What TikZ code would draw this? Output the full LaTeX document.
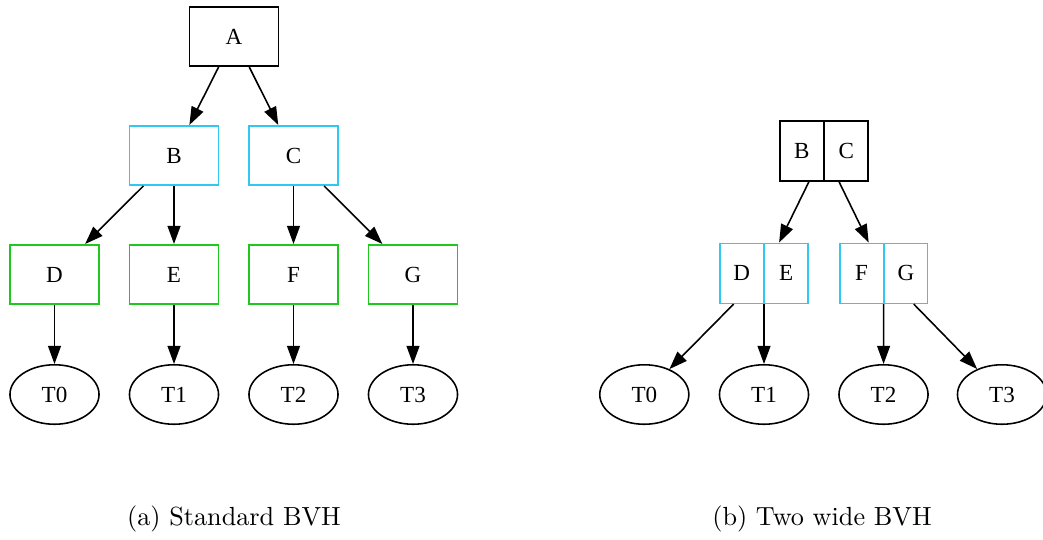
\documentclass[tikz,border=0pt]{standalone}
\usepackage{fontspec}
\newfontfamily\labelfont{Liberation Serif}
\usetikzlibrary{arrows.meta,shapes.geometric,shapes.multipart}
\definecolor{levelone}{HTML}{30C8F0}
\definecolor{leveltwo}{HTML}{1FC81F}
\begin{document}
\begin{tikzpicture}[x=0.3817pt,y=-0.3817pt,
  every node/.style={font=\labelfont\fontsize{8.8}{10}\selectfont, line width=0.6pt},
  bvbox/.style={draw, rectangle, minimum width=34pt, minimum height=22.7pt, inner sep=0pt},
  leaf/.style={draw, ellipse, minimum width=34pt, minimum height=22.7pt, inner sep=0pt},
  widebox/.style={draw, rectangle split, rectangle split horizontal, rectangle split parts=2,
    text width=16.4pt, align=center, inner xsep=0pt, inner ysep=0pt, minimum height=22.9pt},
  link/.style={-{Triangle[length=6.9pt,width=4.9pt]}, line width=0.6pt},
  caption/.style={font=\rmfamily\fontsize{10}{12}\selectfont}
]
\useasboundingbox (0,0) rectangle (1043,539);
\clip (0,0) rectangle (1043,539);

% (a) binary hierarchy
\node[bvbox] (A) at (234,36.5) {A};
\node[bvbox, draw=levelone] (B) at (174,155.5) {B};
\node[bvbox, draw=levelone] (C) at (293.5,155.5) {C};
\node[bvbox, draw=leveltwo] (D) at (54.5,274.5) {D};
\node[bvbox, draw=leveltwo] (E) at (174,274.5) {E};
\node[bvbox, draw=leveltwo] (F) at (293.5,274.5) {F};
\node[bvbox, draw=leveltwo] (G) at (413,274.5) {G};
\node[leaf] (T0) at (54.5,394.5) {T0};
\node[leaf] (T1) at (174,394.5) {T1};
\node[leaf] (T2) at (293.5,394.5) {T2};
\node[leaf] (T3) at (413,394.5) {T3};

\draw[link] (A) -- (B);
\draw[link] (A) -- (C);
\draw[link] (B) -- (D);
\draw[link] (B) -- (E);
\draw[link] (C) -- (F);
\draw[link] (C) -- (G);
\draw[link] (D) -- (T0);
\draw[link] (E) -- (T1);
\draw[link] (F) -- (T2);
\draw[link] (G) -- (T3);

\node[caption] (capa) at (234,519) {(a) Standard BVH};

% (b) two-wide hierarchy
\node[widebox] (BC) at (824,151) {B\nodepart{two}C};
\node[widebox, draw=levelone] (DE) at (764,273.3) {D\nodepart{two}E};
\node[widebox, draw=levelone] (FG) at (883.7,273.3) {F\nodepart{two}G};
\node[leaf] (W0) at (644.3,394.5) {T0};
\node[leaf] (W1) at (764,394.5) {T1};
\node[leaf] (W2) at (883.5,394.5) {T2};
\node[leaf] (W3) at (1002,394.5) {T3};

\draw[link] (BC) -- (DE);
\draw[link] (BC) -- (FG);
\draw[link] (DE) -- (W0);
\draw[link] (DE) -- (W1);
\draw[link] (FG) -- (W2);
\draw[link] (FG) -- (W3);

\node[caption] (capb) at (822,519) {(b) Two wide BVH};
\end{tikzpicture}
\end{document}
